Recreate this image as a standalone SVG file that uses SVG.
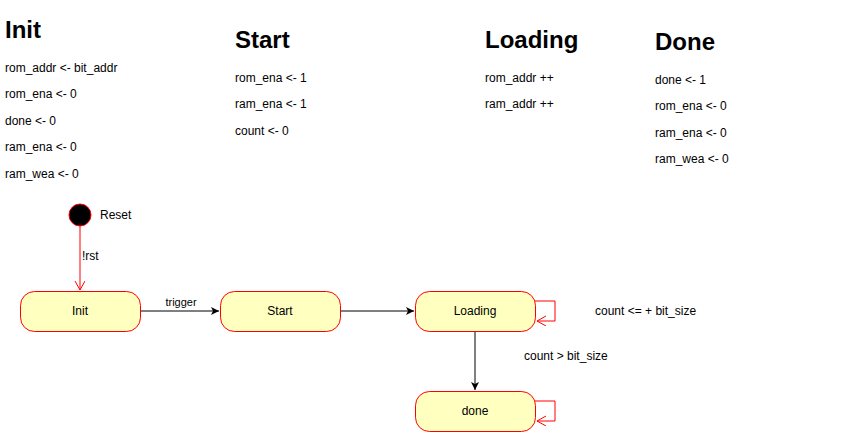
<svg xmlns="http://www.w3.org/2000/svg" width="841" height="432" viewBox="0 0 841 432">
<style>
text{font-family:"Liberation Sans",Arial,sans-serif;fill:#000}
.h{font-size:24px;font-weight:bold}
.t{font-size:12px}
.s{font-size:11px}
.c{text-anchor:middle}
.st{fill:#ffffc0;stroke:#ff0000;stroke-width:1}
.e{fill:none;stroke:#000;stroke-width:1}
.r{fill:none;stroke:#ff0000;stroke-width:1}
</style>
<defs>
<marker id="a" markerWidth="10" markerHeight="10" refX="8" refY="4" orient="auto" markerUnits="userSpaceOnUse"><path d="M0,0 L8,4 L0,8 L2,4 Z" fill="#000"/></marker>
<marker id="o" markerWidth="12" markerHeight="12" refX="9" refY="5" orient="auto" markerUnits="userSpaceOnUse"><path d="M0,0 L9,5 L0,10" fill="none" stroke="#ff0000"/></marker>
</defs>
<rect width="841" height="432" fill="#fff"/>
<g id="notes">
<text class="h" x="5" y="38">Init</text>
<text class="t" x="5" y="72">rom_addr &lt;- bit_addr</text>
<text class="t" x="5" y="98">rom_ena &lt;- 0</text>
<text class="t" x="5" y="125">done &lt;- 0</text>
<text class="t" x="5" y="151">ram_ena &lt;- 0</text>
<text class="t" x="5" y="178">ram_wea &lt;- 0</text>
<text class="h" x="235" y="48">Start</text>
<text class="t" x="235" y="82">rom_ena &lt;- 1</text>
<text class="t" x="235" y="108">ram_ena &lt;- 1</text>
<text class="t" x="235" y="135">count &lt;- 0</text>
<text class="h" x="485" y="48">Loading</text>
<text class="t" x="485" y="82">rom_addr ++</text>
<text class="t" x="485" y="108">ram_addr ++</text>
<text class="h" x="655" y="50">Done</text>
<text class="t" x="655" y="84">done &lt;- 1</text>
<text class="t" x="655" y="110">rom_ena &lt;- 0</text>
<text class="t" x="655" y="137">ram_ena &lt;- 0</text>
<text class="t" x="655" y="163">ram_wea &lt;- 0</text>
</g>
<g id="connectors">
<path class="r" d="M80,226 L80,290" marker-end="url(#o)"/>
<text class="t" x="82" y="260">!rst</text>
<path class="e" d="M140,311 L219,311" marker-end="url(#a)"/>
<text class="s c" x="181" y="306">trigger</text>
<path class="e" d="M340,311 L414,311" marker-end="url(#a)"/>
<path class="e" d="M475,331 L475,390" marker-end="url(#a)"/>
<text class="t" x="524" y="360">count &gt; bit_size</text>
<path class="r" d="M535,301 L555,301 L555,321 L537,321" marker-end="url(#o)"/>
<text class="t" x="595" y="315">count &lt;= + bit_size</text>
<path class="r" d="M535,401 L555,401 L555,421 L537,421" marker-end="url(#o)"/>
</g>
<g id="reset">
<circle cx="80" cy="215" r="11" fill="#000" stroke="#ff0000"/>
<text class="t" x="100" y="219">Reset</text>
</g>
<g id="init"><rect class="st" x="20.5" y="291.5" width="120" height="40" rx="14"/><text class="t c" x="80" y="315">Init</text></g>
<g id="start"><rect class="st" x="220.5" y="291.5" width="120" height="40" rx="14"/><text class="t c" x="280" y="315">Start</text></g>
<g id="loading"><rect class="st" x="415.5" y="291.5" width="120" height="40" rx="14"/><text class="t c" x="475" y="315">Loading</text></g>
<g id="done"><rect class="st" x="415.5" y="391.5" width="120" height="40" rx="14"/><text class="t c" x="475" y="415">done</text></g>
</svg>
